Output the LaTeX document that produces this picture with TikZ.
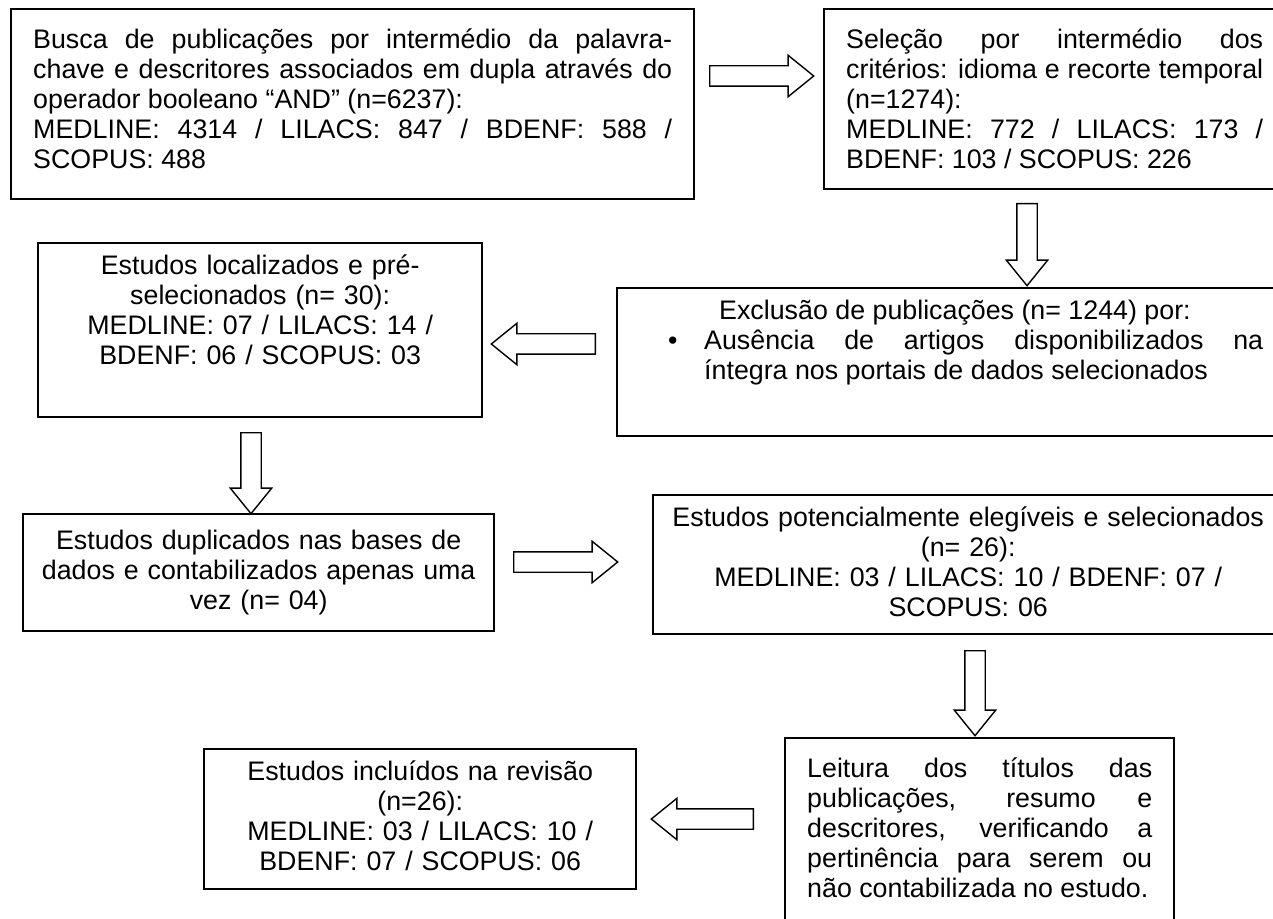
\documentclass[tikz,border=0pt]{standalone}
\usepackage{fontspec}
\setmainfont{Liberation Sans}
\usetikzlibrary{shapes.arrows}
\hyphenpenalty=10000
\tikzset{
    caixa/.style={draw, line width=1.2pt, anchor=north west, inner ysep=0pt, inner xsep=11pt, text height=19.5pt, font=\fontsize{13.4pt}{15pt}\selectfont},
    seta/.style={draw, line width=0.7pt, single arrow, single arrow head extend=5.25pt, single arrow tip angle=78, inner xsep=0pt, inner ysep=4.75pt, minimum height=52pt, anchor=tail},
}
\begin{document}
    \begin{tikzpicture}[x=0.5pt, y=-0.5pt]
        \clip (0,0) rectangle (1273,919);

        \node[caixa, text width=319.5pt, text depth=75.5pt, align=justify] (busca) at (10,8)
            {Busca de publicações por intermédio da palavra-\linebreak chave e descritores associados em dupla através do\linebreak operador booleano “AND” (n=6237):\\ MEDLINE: 4314 / LILACS: 847 / BDENF: 588 /\linebreak SCOPUS: 488};
        \node[caixa, text width=208.5pt, text depth=70.5pt, align=justify] (selecao) at (823,8)
            {Seleção por intermédio dos\linebreak critérios: idioma e recorte temporal\linebreak (n=1274):\\ MEDLINE: 772 / LILACS: 173 /\linebreak BDENF: 103 / SCOPUS: 226};
        \node[caixa, text width=312pt, text height=15.5pt, text depth=58.5pt, align=justify] (exclusao) at (616,287)
            {\hspace*{40pt}Exclusão de publicações (n= 1244) por:\\
            \hspace*{14.5pt}\makebox[18pt][l]{•}\parbox[t]{279.5pt}{Ausência de artigos disponibilizados na\linebreak íntegra nos portais de dados selecionados}};
        \node[caixa, inner xsep=4pt, text width=214pt, text height=15.5pt, text depth=71.5pt, align=center] (localizados) at (37,242)
            {Estudos localizados e pré-\\ selecionados (n= 30):\\ MEDLINE: 07 / LILACS: 14 /\\ BDENF: 06 / SCOPUS: 03};
        \node[caixa, inner xsep=4pt, text width=227.5pt, text height=17.5pt, text depth=41pt, align=center] (duplicados) at (22,513)
            {Estudos duplicados nas bases de\\ dados e contabilizados apenas uma\\ vez (n= 04)};
        \node[caixa, inner xsep=4pt, text width=307pt, text height=15.5pt, text depth=54pt, align=center] (elegiveis) at (652,494)
            {Estudos potencialmente elegíveis e selecionados\\ (n= 26):\\ MEDLINE: 03 / LILACS: 10 / BDENF: 07 /\\ SCOPUS: 06};
        \node[caixa, text width=172.5pt, text depth=77pt, align=justify] (leitura) at (784,737)
            {Leitura dos títulos das\linebreak publicações, resumo e\linebreak descritores, verificando a\linebreak pertinência para serem ou\linebreak não contabilizada no estudo.};
        \node[caixa, inner xsep=4pt, text width=208pt, text height=15.5pt, text depth=54.5pt, align=center] (incluidos) at (203,748)
            {Estudos incluídos na revisão\\ (n=26):\\ MEDLINE: 03 / LILACS: 10 /\\ BDENF: 07 / SCOPUS: 06};

        \node[seta] (s1) at (709,76) {};
        \node[seta, rotate=-90, minimum height=41pt] (s2) at (1027,203) {};
        \node[seta, rotate=180] (s3) at (596,344) {};
        \node[seta, rotate=-90, minimum height=40.5pt] (s4) at (251,432) {};
        \node[seta] (s5) at (513,562) {};
        \node[seta, rotate=-90, minimum height=42.5pt] (s6) at (975,650) {};
        \node[seta, rotate=180, minimum height=51pt] (s7) at (754,819) {};
    \end{tikzpicture}
\end{document}
